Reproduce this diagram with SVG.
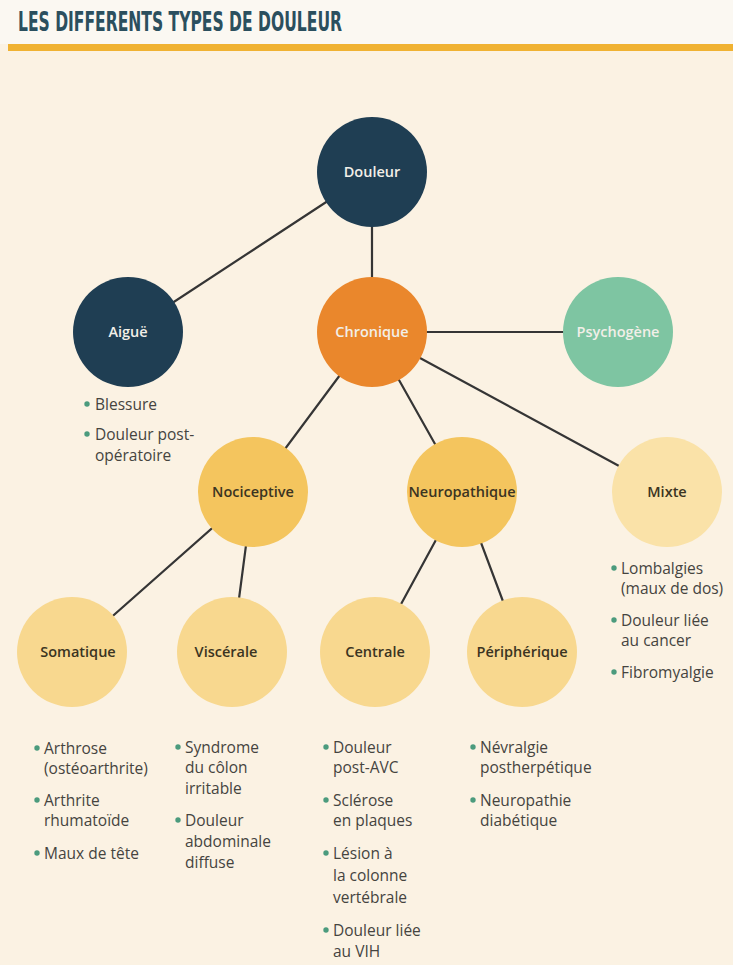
<svg xmlns="http://www.w3.org/2000/svg" width="733" height="965" viewBox="0 0 733 965">
<defs>
<style>
.bg{fill:#fbf2e3}
.title{font-family:"DejaVu Sans","Liberation Sans",sans-serif;font-weight:bold;font-size:26px;fill:#2b4f5e;font-stretch:condensed}
.lbl{font-family:"Open Sans","Noto Sans",sans-serif;font-size:14.5px;font-weight:600;text-anchor:middle}
.w{fill:#f2efe8}
.d{fill:#3b3422}
.item{font-family:"Open Sans","Noto Sans",sans-serif;font-size:15.5px;fill:#45443f}
.dot{fill:#4b9b7d}
.conn line{stroke:#353535;stroke-width:2.2;stroke-linecap:round}
.navy{fill:#1f3e53}
.orange{fill:#ea872c}
.green{fill:#7ec5a2}
.y1{fill:#f4c55e}
.y2{fill:#f8d88f}
.y3{fill:#fae2a8}
</style>
</defs>
<rect class="bg" x="0" y="0" width="733" height="965"/>
<rect x="0" y="0" width="733" height="44" fill="#fbf8f2"/>
<text class="title" x="18" y="31" textLength="324" lengthAdjust="spacingAndGlyphs">LES DIFFERENTS TYPES DE DOULEUR</text>
<rect x="8" y="44" width="725" height="7" fill="#f0b232"/>

<g id="connectors" class="conn">
<line x1="372" y1="172" x2="128" y2="332"/>
<line x1="372" y1="172" x2="372" y2="332"/>
<line x1="372" y1="332" x2="618" y2="332"/>
<line x1="372" y1="332" x2="253" y2="492"/>
<line x1="372" y1="332" x2="462" y2="492"/>
<line x1="372" y1="332" x2="667" y2="492"/>
<line x1="253" y1="492" x2="72" y2="652"/>
<line x1="253" y1="492" x2="232" y2="652"/>
<line x1="462" y1="492" x2="375" y2="652"/>
<line x1="462" y1="492" x2="522" y2="652"/>
</g>

<g id="douleur"><circle class="navy" cx="372" cy="172" r="55"/><text class="lbl w" x="372" y="177">Douleur</text></g>
<g id="aigue"><circle class="navy" cx="128" cy="332" r="55"/><text class="lbl w" x="128" y="337" font-weight="normal">Aiguë</text></g>
<g id="chronique"><circle class="orange" cx="372" cy="332" r="55"/><text class="lbl w" x="372" y="337">Chronique</text></g>
<g id="psychogene"><circle class="green" cx="618" cy="332" r="55"/><text class="lbl w" x="618" y="337">Psychogène</text></g>
<g id="nociceptive"><circle class="y1" cx="253" cy="492" r="55"/><text class="lbl d" x="253" y="497">Nociceptive</text></g>
<g id="neuropathique"><circle class="y1" cx="462" cy="492" r="55"/><text class="lbl d" x="462" y="497">Neuropathique</text></g>
<g id="mixte"><circle class="y3" cx="667" cy="492" r="55"/><text class="lbl d" x="667" y="497">Mixte</text></g>
<g id="somatique"><circle class="y2" cx="72" cy="652" r="55"/><text class="lbl d" x="78" y="657">Somatique</text></g>
<g id="viscerale"><circle class="y2" cx="232" cy="652" r="55"/><text class="lbl d" x="226" y="657">Viscérale</text></g>
<g id="centrale"><circle class="y2" cx="375" cy="652" r="55"/><text class="lbl d" x="375" y="657">Centrale</text></g>
<g id="peripherique"><circle class="y2" cx="522" cy="652" r="55"/><text class="lbl d" x="522" y="657">Périphérique</text></g>

<g id="list-aigue">
<circle class="dot" cx="87" cy="404" r="2.7"/><text class="item" x="95" y="410">Blessure</text>
<circle class="dot" cx="87" cy="434" r="2.7"/><text class="item" x="95" y="440">Douleur post-</text>
<text class="item" x="95" y="461">opératoire</text>
</g>
<g id="list-mixte">
<circle class="dot" cx="614" cy="568" r="2.7"/><text class="item" x="621" y="574">Lombalgies</text>
<text class="item" x="621" y="594">(maux de dos)</text>
<circle class="dot" cx="614" cy="620" r="2.7"/><text class="item" x="621" y="626">Douleur liée</text>
<text class="item" x="621" y="646">au cancer</text>
<circle class="dot" cx="614" cy="672" r="2.7"/><text class="item" x="621" y="678">Fibromyalgie</text>
</g>
<g id="list-somatique">
<circle class="dot" cx="37" cy="748" r="2.7"/><text class="item" x="44" y="754">Arthrose</text>
<text class="item" x="44" y="774">(ostéoarthrite)</text>
<circle class="dot" cx="37" cy="800" r="2.7"/><text class="item" x="44" y="806">Arthrite</text>
<text class="item" x="44" y="826">rhumatoïde</text>
<circle class="dot" cx="37" cy="853" r="2.7"/><text class="item" x="44" y="859">Maux de tête</text>
</g>
<g id="list-viscerale">
<circle class="dot" cx="178" cy="747" r="2.7"/><text class="item" x="185" y="753">Syndrome</text>
<text class="item" x="185" y="773">du côlon</text>
<text class="item" x="185" y="794">irritable</text>
<circle class="dot" cx="178" cy="820" r="2.7"/><text class="item" x="185" y="826">Douleur</text>
<text class="item" x="185" y="847">abdominale</text>
<text class="item" x="185" y="868">diffuse</text>
</g>
<g id="list-centrale">
<circle class="dot" cx="326" cy="747" r="2.7"/><text class="item" x="333" y="753">Douleur</text>
<text class="item" x="333" y="773">post-AVC</text>
<circle class="dot" cx="326" cy="800" r="2.7"/><text class="item" x="333" y="806">Sclérose</text>
<text class="item" x="333" y="826">en plaques</text>
<circle class="dot" cx="326" cy="853" r="2.7"/><text class="item" x="333" y="859">Lésion à</text>
<text class="item" x="333" y="881">la colonne</text>
<text class="item" x="333" y="903">vertébrale</text>
<circle class="dot" cx="326" cy="930" r="2.7"/><text class="item" x="333" y="936">Douleur liée</text>
<text class="item" x="333" y="957">au VIH</text>
</g>
<g id="list-peripherique">
<circle class="dot" cx="473" cy="747" r="2.7"/><text class="item" x="480" y="753">Névralgie</text>
<text class="item" x="480" y="773">postherpétique</text>
<circle class="dot" cx="473" cy="800" r="2.7"/><text class="item" x="480" y="806">Neuropathie</text>
<text class="item" x="480" y="826">diabétique</text>
</g>
</svg>
